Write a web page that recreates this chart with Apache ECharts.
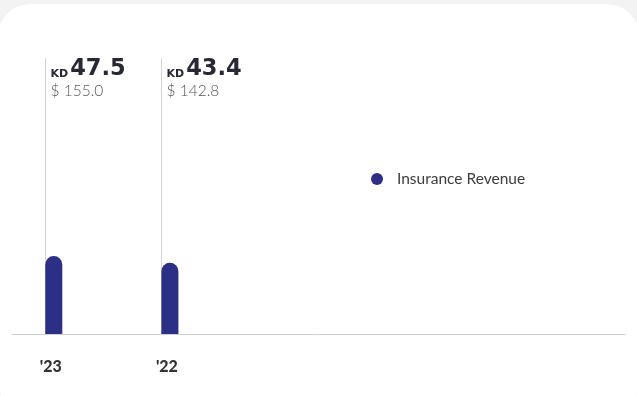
<!DOCTYPE html>
<html>
<head>
<meta charset="utf-8">
<script src="https://cdn.jsdelivr.net/npm/echarts@6/dist/echarts.min.js"></script>
<style>
  html, body { margin: 0; padding: 0; width: 637px; height: 396px; overflow: hidden; background: #f3f3f3; }
  #card { position: absolute; left: -3px; top: 4px; width: 643px; height: 410px; background: #ffffff; border-radius: 34px; }
  #chart { position: absolute; left: 0; top: 0; width: 637px; height: 396px; }
</style>
</head>
<body>
<div id="card"></div>
<div id="chart"></div>
<script>
const categories = ["'23", "'22"];
const kdValues = [47.5, 43.4];
const usdValues = [155.0, 142.8];
const seriesName = 'Insurance Revenue';

const barColor = '#2b3086';
const barWidth = 17;
const fontFamily = 'Lato, "Open Sans", sans-serif';
const numFont = '"DejaVu Sans", sans-serif';

const barData = categories.map((c, i) => [i, kdValues[i]]);
const labelData = categories.map((c, i) => [i, kdValues[i], usdValues[i]]);

const chart = echarts.init(document.getElementById('chart'), null, { renderer: 'canvas' });

chart.setOption({
  backgroundColor: 'transparent',
  animation: false,
  grid: { left: 12, right: 12, top: 58, bottom: 62 },
  legend: {
    data: [seriesName],
    left: 366,
    top: 166,
    icon: 'circle',
    itemWidth: 30,
    itemHeight: 12,
    textStyle: { fontFamily: fontFamily, fontSize: 15.5, fontWeight: 400, color: '#3d3d3d' }
  },
  xAxis: {
    type: 'value',
    min: -0.36,
    max: 4.92,
    splitLine: { show: false },
    axisTick: { show: false },
    axisLine: { show: true, lineStyle: { color: '#cfcfcf', width: 1 } },
    axisLabel: {
      customValues: categories.map((c, i) => i),
      formatter: v => categories[Math.round(v)] || '',
      margin: 25,
      color: '#333333',
      fontFamily: fontFamily,
      fontSize: 16,
      fontWeight: 900,
      padding: [0, 6, 0, 0]
    }
  },
  yAxis: {
    type: 'value',
    min: 0,
    max: 168,
    show: false
  },
  series: [
    {
      name: seriesName,
      type: 'bar',
      data: barData,
      barWidth: barWidth,
      itemStyle: { color: barColor, borderRadius: [9, 9, 0, 0] },
      z: 3
    },
    {
      type: 'custom',
      data: labelData,
      encode: { x: 0, y: 1 },
      silent: true,
      z: 2,
      renderItem: function (params, api) {
        const base = api.coord([api.value(0), 0]);
        const left = Math.round(base[0] - barWidth / 2) + 0.5;
        const top = params.coordSys.y;
        return {
          type: 'group',
          children: [
            {
              type: 'line',
              shape: { x1: left, y1: top, x2: left, y2: base[1] },
              style: { stroke: '#d3d3d3', lineWidth: 1 }
            },
            {
              type: 'text',
              x: left + 5,
              y: top + 1,
              style: {
                text: '{kd|KD}{num|' + api.value(1).toFixed(1) + '}\n{usd|$ ' + api.value(2).toFixed(1) + '}',
                align: 'left',
                verticalAlign: 'top',
                rich: {
                  kd: { fontFamily: numFont, fontSize: 11, fontWeight: 'bold', fill: '#262833', lineHeight: 18, verticalAlign: 'bottom', padding: [0, 2, 1.5, 0] },
                  num: { fontFamily: numFont, fontSize: 22.5, fontWeight: 'bold', fill: '#262833', lineHeight: 22, verticalAlign: 'bottom' },
                  usd: { fontFamily: fontFamily, fontSize: 15.5, fontWeight: 300, fill: '#555555', lineHeight: 20 }
                }
              }
            }
          ]
        };
      }
    }
  ]
});
</script>
</body>
</html>
